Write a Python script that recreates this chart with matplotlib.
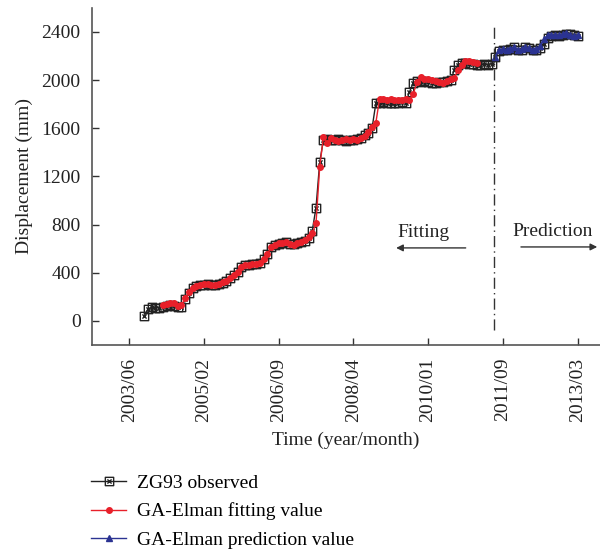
import numpy as np
import matplotlib
matplotlib.use("Agg")
import matplotlib.pyplot as plt
from matplotlib.path import Path

plt.rcParams['font.family'] = ['Liberation Serif', 'DejaVu Serif']

# month index of each sample (0 = 2003/06)
obs_x = list(range(4, 121))
obs_y = [41, 97, 112, 108, 110, 118, 125, 128, 126, 112, 116, 180, 235, 270, 290,
         300, 302, 303, 300, 298, 305, 315, 330, 360, 385, 405, 450, 462, 468, 472,
         475, 478, 510, 555, 610, 630, 640, 648, 652, 640, 635, 650, 655, 665, 690,
         750, 940, 1320, 1505, 1510, 1505, 1500, 1510, 1500, 1495, 1505, 1500, 1510, 1520, 1540,
         1560, 1600, 1805, 1810, 1815, 1810, 1810, 1812, 1808, 1815, 1810, 1900, 1975, 1990, 1985,
         1990, 1985, 1978, 1975, 1980, 1985, 1990, 2000, 2080, 2125, 2145, 2140, 2135, 2130, 2128,
         2125, 2130, 2128, 2135, 2190, 2240, 2250, 2245, 2255, 2270, 2250, 2245, 2270, 2265, 2245,
         2250, 2265, 2300, 2350, 2365, 2370, 2365, 2375, 2385, 2380, 2370, 2365]

fit_x = list(range(9, 94))
fit_y = [135, 141, 147, 145, 120, 133, 188, 238, 271, 292, 300, 305, 303, 299, 302,
         310, 320, 335, 356, 382, 409, 448, 462, 468, 473, 476, 480, 512, 556, 612,
         631, 645, 650, 655, 640, 631, 650, 658, 672, 700, 728, 810, 1281, 1530, 1475,
         1516, 1505, 1496, 1500, 1508, 1502, 1510, 1500, 1520, 1535, 1571, 1613, 1641, 1843, 1840,
         1838, 1840, 1835, 1838, 1835, 1840, 1838, 1880, 1985, 2022, 2010, 2005, 2000, 1995, 1985,
         1978, 1990, 2005, 2020, 2083, 2125, 2160, 2155, 2152, 2140]

pred_x = list(range(98, 121))
pred_y = [2193, 2249, 2255, 2249, 2260, 2271, 2249, 2255, 2271, 2262, 2249, 2260, 2280, 2338, 2374,
          2370, 2374, 2370, 2380, 2388, 2375, 2366, 2370]

tick_pos = [0, 20, 40, 60, 80, 100, 120]
tick_labels = ['2003/06', '2005/02', '2006/09', '2008/04', '2010/01', '2011/09', '2013/03']
y_ticks = [0, 400, 800, 1200, 1600, 2000, 2400]
split_x = 97.5  # boundary between fitting and prediction

# square with a cross inside
box_x = Path([(-1, -1), (1, -1), (1, 1), (-1, 1), (-1, -1),
              (-0.5, -0.5), (0.5, 0.5), (-0.5, 0.5), (0.5, -0.5)],
             [Path.MOVETO, Path.LINETO, Path.LINETO, Path.LINETO, Path.CLOSEPOLY,
              Path.MOVETO, Path.LINETO, Path.MOVETO, Path.LINETO])

fig = plt.figure(figsize=(6.0, 5.52), dpi=100)
ax = fig.add_axes([0.153, 0.375, 0.847, 0.611])

l1, = ax.plot(obs_x, obs_y, color='#222222', lw=1, marker=box_x, ms=6,
              mfc='none', mec='#222222', mew=1, label='ZG93 observed')
l2, = ax.plot(fit_x, fit_y, color='#e8202a', lw=1, marker='o', ms=4,
              mfc='#e8202a', mec='#e8202a', label='GA-Elman fitting value')
l3, = ax.plot(pred_x, pred_y, color='#2b3392', lw=1, marker='^', ms=4,
              mfc='#2b3392', mec='#2b3392', label='GA-Elman prediction value')

ax.plot([split_x, split_x], [-75, 2460], color='#333333', lw=1,
        linestyle=(0, (8, 3, 1, 3)))

ax.annotate('', xy=(70.7, 606), xytext=(90.8, 606),
            arrowprops=dict(arrowstyle='-|>', color='#333333', lw=1, mutation_scale=10))
ax.annotate('', xy=(126, 614), xytext=(104.1, 614), annotation_clip=False,
            arrowprops=dict(arrowstyle='-|>', color='#333333', lw=1, mutation_scale=10))
ax.text(78.7, 735, 'Fitting', fontsize=14, ha='center', va='center', color='#222222')
ax.text(102.5, 745, 'Prediction', fontsize=14, ha='left', va='center', color='#222222',
        clip_on=False)

ax.set_xlim(-10, 126)
ax.set_ylim(-200, 2600)
ax.set_xticks(tick_pos)
ax.set_xticklabels(tick_labels, rotation=90)
ax.set_yticks(y_ticks)
ax.tick_params(direction='in', length=5, width=1, labelsize=14, colors='#333333',
               labelcolor='#222222')
ax.tick_params(axis='x', pad=9)
ax.tick_params(axis='y', pad=8)
for s in ['top', 'right']:
    ax.spines[s].set_visible(False)
for s in ['left', 'bottom']:
    ax.spines[s].set_color('#555555')
    ax.spines[s].set_linewidth(1.2)

ax.set_xlabel('Time (year/month)', fontsize=14, color='#222222', labelpad=7)
ax.set_ylabel('Displacement (mm)', fontsize=14, color='#222222', labelpad=6)

fig.legend(handles=[l1, l2, l3], loc='upper left', bbox_to_anchor=(0.152, 0.141),
           frameon=False, fontsize=14, handlelength=1.8, handletextpad=0.55,
           labelspacing=0.55, borderaxespad=0, borderpad=0)

fig.savefig('out.png', dpi=100)
